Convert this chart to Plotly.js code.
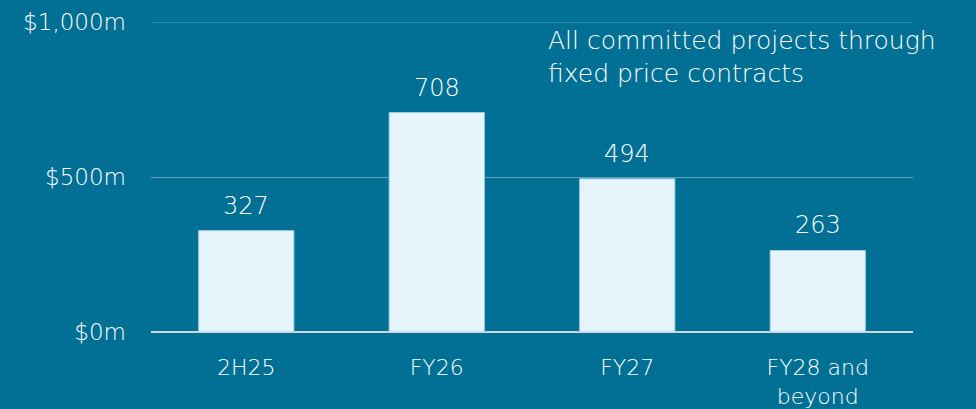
<!DOCTYPE html>
<html>
<head>
<meta charset="utf-8">
<script src="https://cdn.plot.ly/plotly-3.0.1.min.js"></script>
<style>html,body{margin:0;padding:0;background:#027094;}#chart{width:976px;height:409px;}</style>
</head>
<body>
<div id="chart"></div>
<script>
const categories = ["2H25", "FY26", "FY27", "FY28 and<br>beyond"];
const values = [327, 708, 494, 263];
const tickVals = [0, 500, 1000];
const tickText = ["$0m", "$500m", "$1,000m"];
const noteText = "All committed projects through<br>fixed price contracts";

const font = "'DejaVu Sans', sans-serif";
const W = 200;

const trace = {
  type: "bar",
  x: categories,
  y: values,
  marker: {color: "#E6F5FB", line: {color: "#9ccde0", width: 1}},
  hoverinfo: "none"
};

const labelAnns = categories.map((c, i) => ({
  x: c, y: values[i], xref: "x", yref: "y",
  text: String(values[i]), showarrow: false,
  yanchor: "bottom", yshift: 9,
  font: {family: font, size: 24, color: "#ffffff", weight: W}
}));

const layout = {
  width: 976, height: 409,
  margin: {l: 151, r: 63, t: 22, b: 77},
  paper_bgcolor: "#027094",
  plot_bgcolor: "#027094",
  showlegend: false,
  bargap: 0.5,
  xaxis: {
    type: "category",
    showgrid: false,
    zeroline: false,
    showline: false,
    ticks: "",
    ticklabelstandoff: 20,
    tickfont: {family: font, size: 22, color: "#ffffff", weight: W}
  },
  yaxis: {
    range: [0, 1000],
    tickvals: tickVals,
    ticktext: tickText,
    showgrid: true,
    gridcolor: "rgba(255,255,255,0.35)",
    gridwidth: 1,
    zeroline: true,
    zerolinecolor: "#d0d6d9",
    zerolinewidth: 2,
    ticks: "",
    ticklabelstandoff: 24,
    tickfont: {family: font, size: 23, color: "#ffffff", weight: W}
  },
  shapes: [{
    type: "line", xref: "paper", yref: "y", x0: 0, x1: 1, y0: tickVals[2], y1: tickVals[2],
    line: {color: "rgba(255,255,255,0.35)", width: 1}
  }],
  annotations: labelAnns.concat([{
    xref: "paper", yref: "paper", x: (546 - 151) / 762, y: 1 - (24 - 22) / 310,
    xanchor: "left", yanchor: "top", align: "left",
    text: noteText, showarrow: false,
    font: {family: font, size: 25, color: "#ffffff", weight: W}
  }])
};

Plotly.newPlot("chart", [trace], layout, {displayModeBar: false, staticPlot: true});
</script>
</body>
</html>
